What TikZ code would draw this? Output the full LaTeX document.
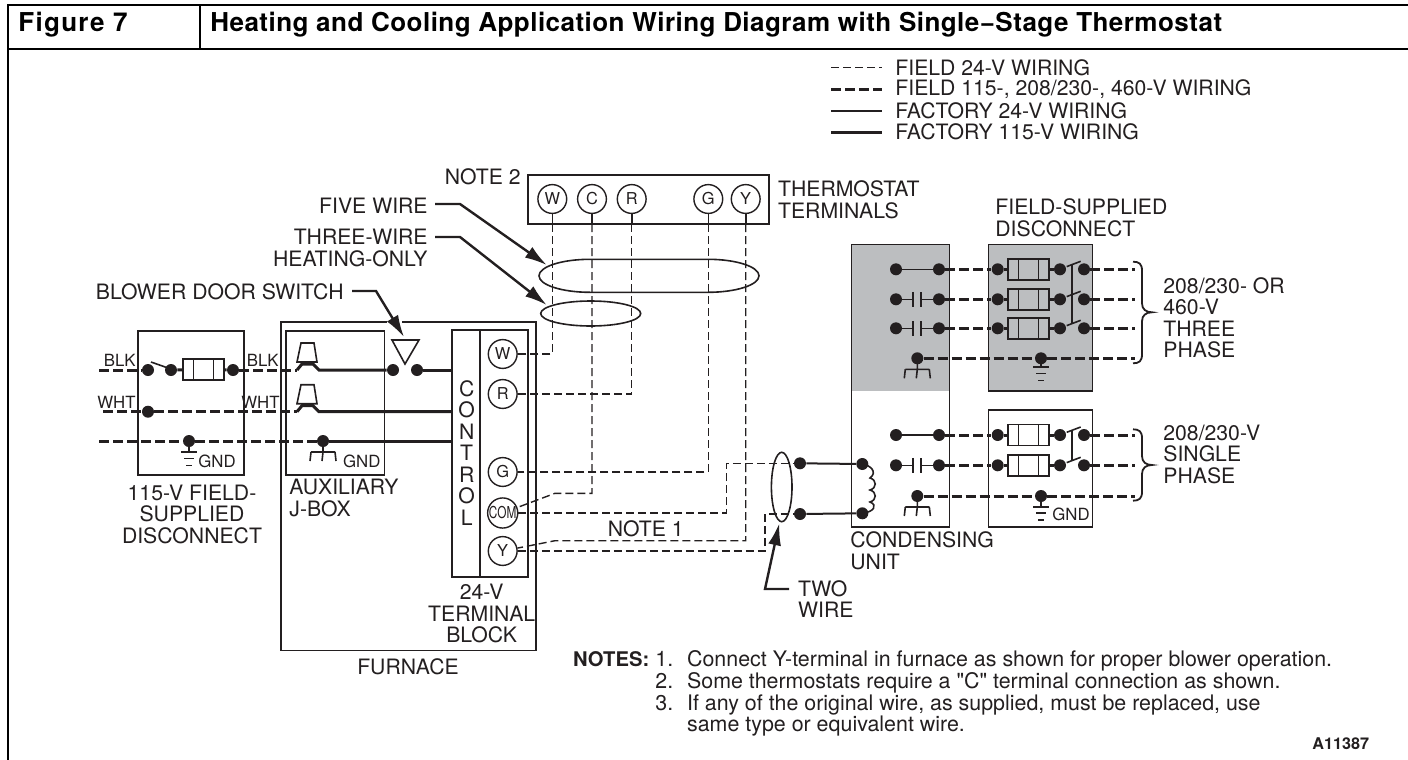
\documentclass[tikz,border=0pt]{standalone}
\usepackage{fontspec}
\setmainfont[Ligatures=TeXOff]{TeX Gyre Heros}
\usepackage{xcolor}
\usepackage{tikz}
\usetikzlibrary{calc,arrows.meta}
\definecolor{ink}{HTML}{231F20}
\definecolor{panel}{HTML}{BCBEC0}
\tikzset{
	lbl/.style={font=\fontsize{10.6}{10.75}\selectfont,text=ink,inner sep=0pt,align=left},
	small/.style={font=\fontsize{8.4}{9}\selectfont,text=ink,inner sep=0pt},
	note/.style={font=\fontsize{10.7}{10.8}\selectfont,text=ink,inner sep=0pt,anchor=west,text height=7.7pt,text depth=0pt},
	box/.style={draw=ink,line width=.8pt},
	dot/.style={circle,fill=ink,inner sep=0pt,minimum size=6pt},
	term/.style={circle,draw=ink,line width=.7pt,inner sep=0pt,minimum size=14.4pt,text=ink,font=\fontsize{8.2}{8.5}\selectfont},
	fuse/.style={rectangle,draw=ink,line width=.8pt,inner sep=0pt,minimum width=20.5pt,minimum height=10.4pt,
		path picture={\draw[ink,line width=.8pt] ([xshift=5.4pt]path picture bounding box.west) -- ++(0,6pt) ++(0,-12pt) -- ++(0,6pt)
			([xshift=-5.2pt]path picture bounding box.east) -- ++(0,6pt) ++(0,-12pt) -- ++(0,6pt);}},
	fieldlow/.style={draw=ink,line width=.7pt,dash pattern=on 4pt off 2pt},
	fieldhigh/.style={draw=ink,line width=1.5pt,dash pattern=on 5pt off 2pt},
	factlow/.style={draw=ink,line width=.8pt},
	facthigh/.style={draw=ink,line width=1.5pt},
	leader/.style={draw=ink,line width=1.2pt,-{Latex[length=11pt,width=6.5pt]}},
}
\begin{document}
\begin{tikzpicture}[x=.5pt,y=-.5pt]
	\useasboundingbox (0,0) rectangle (1408,760);
	\def\earth#1#2{\draw[factlow] (#1.center) -- ++(0,#2) ++(-8,0) -- ++(16,0) ++(-13,6.5) -- ++(10,0) ++(-8,7) -- ++(6,0);} % field ground
	\def\chassis#1{\draw[factlow] (#1.center) -- ++(0,11) ++(-12,0) -- ++(24,0) ++(0,0) -- ++(1,9) ++(-13,-9) -- ++(-1,9) ++(-11,-9) -- ++(-1,9);} % unit ground
	\def\blade#1{\draw[factlow] (#1.center) ++(6.7,-2.7) -- ++(14,-5.3);} % open switch
	\def\contact#1#2{\draw[factlow] (#1.center) -- ++(17,0) ++(0,-7.5) -- ++(0,15) ++(7.7,0) -- ++(0,-15) ++(0,7.5) -- (#2.center);} % contactor
	\def\phaserow#1#2{% one line through unit and disconnect
		\node[dot] (#1u) at (896,#2) {};
		\node[dot] (#1v) at (939,#2) {};
		\node[dot] (#1a) at (997.7,#2) {};
		\node[fuse] (#1f) at (1028.3,#2) {};
		\node[dot] (#1b) at (1060,#2) {};
		\node[dot] (#1c) at (1084,#2) {};
		\coordinate (#1e) at (1135,#2);
		\draw[fieldhigh] (#1v) -- (#1a);
		\draw[facthigh] (#1a) -- (#1f) -- (#1b);
		\draw[fieldhigh] (#1c) -- (#1e);
		\blade{#1b}
	}
	\def\bracket#1#2#3{\draw[factlow,line width=.9pt] (1133,#1) .. controls (1139,#1) and (1142,#1+2) .. (1142,#1+9) -- (1142,#2-9)
		.. controls (1142,#2-3) and (1146,#2) .. (1152,#2) .. controls (1146,#2) and (1142,#2+3) .. (1142,#2+9)
		-- (1142,#3-9) .. controls (1142,#3-2) and (1139,#3) .. (1133,#3);} % curly bracket

	% page frame and heading
	\draw[line width=1.3pt] (8,760) -- (8,5) -- (1408,5) (8,49) -- (1408,49) (200,5) -- (200,49);
	\node[inner sep=0pt,anchor=west,font=\fontsize{13}{14}\bfseries\addfontfeatures{LetterSpace=5}\selectfont] (figno) at (18,25) {Figure 7};
	\node[inner sep=0pt,anchor=west,font=\fontsize{13}{14}\bfseries\addfontfeatures{LetterSpace=1.8}\selectfont] (title) at (210,25) {Heating and Cooling Application Wiring Diagram with Single−Stage Thermostat};

	% legend
	\node[lbl,anchor=west] (leg1) at (895,68) {FIELD 24-V WIRING};
	\node[lbl,anchor=west] (leg2) at (895,89.5) {FIELD 115-, 208/230-, 460-V WIRING};
	\node[lbl,anchor=west] (leg3) at (895,111) {FACTORY 24-V WIRING};
	\node[lbl,anchor=west] (leg4) at (895,132) {FACTORY 115-V WIRING};
	\coordinate (key1) at (831,67.7);
	\coordinate (key2) at (831,89.3);
	\coordinate (key3) at (831,110.7);
	\coordinate (key4) at (831,132.3);
	\draw[fieldlow] (key1) -- ++(51,0);
	\draw[fieldhigh] (key2) -- ++(51,0);
	\draw[factlow] (key3) -- ++(51,0);
	\draw[facthigh] (key4) -- ++(51,0);

	% thermostat
	\draw[box] (527.7,175) rectangle (769,224);
	\node[term] (tW) at (552.3,199) {W};
	\node[term] (tC) at (592,199) {C};
	\node[term] (tR) at (631.7,199) {R};
	\node[term] (tG) at (708.3,199) {G};
	\node[term] (tY) at (745.7,199) {Y};
	\node[lbl,anchor=east] (note2) at (521,177) {NOTE 2};
	\node[lbl,anchor=west] (tstat) at (777.7,200) {THERMOSTAT\\TERMINALS};
	\draw[factlow] (tW) -- (552.3,224) coordinate (tWb);
	\draw[factlow] (tC) -- (592,224) coordinate (tCb);
	\draw[factlow] (tR) -- (631.7,224) coordinate (tRb);
	\draw[factlow] (tG) -- (708.3,224) coordinate (tGb);
	\draw[factlow] (tY) -- (745.7,224) coordinate (tYb);

	% furnace and 24-v block
	\draw[box] (281,322) rectangle (535.7,650.3);
	\draw[box] (285.7,331) rectangle (384.3,475);
	\draw[box] (451.7,330) rectangle (528,577);
	\draw[box] (479.7,330) -- (479.7,577);
	\node[term] (bW) at (502.7,354) {W};
	\node[term] (bR) at (502.7,394) {R};
	\node[term] (bG) at (502.7,472) {G};
	\node[term] (bC) at (502.7,513) {\scalebox{.72}[1]{COM}};
	\node[term] (bY) at (502.7,551) {Y};
	\node[lbl,align=center] (ctrl) at (466.7,453) {C\\O\\N\\T\\R\\O\\L};
	\node[lbl,align=center] (block) at (481.7,613.5) {24-V\\TERMINAL\\BLOCK};
	\node[lbl] (furn) at (408,667) {FURNACE};
	\node[lbl,anchor=west] (aux) at (289,498) {AUXILIARY\\J-BOX};

	% low voltage wires
	\draw[fieldlow] (tWb) |- (bW);
	\draw[fieldlow] (tRb) |- (bR);
	\draw[fieldlow] (tGb) |- (bG);
	\draw[fieldlow] (tCb) |- (555,493.3) -- (bC);
	\draw[fieldlow] (tYb) |- (555,540.7) -- (bY);
	\node[dot] (two1) at (800,463.3) {};
	\node[dot] (two2) at (800,514) {};
	\draw[fieldlow] (bC) -| (726.7,463.3) -- (two1);
	\draw[fieldlow] (bY) -| (765,514) -- (two2);
	\node[lbl] (note1) at (645.7,529) {NOTE 1};

	% left disconnect
	\draw[box] (137.7,331) rectangle (243.7,475);
	\node[dot] (inB) at (148,370) {};
	\node[dot] (swB) at (171,370) {};
	\node[fuse] (fB) at (203.2,369.5) {};
	\node[dot] (outB) at (233,370) {};
	\node[dot] (inW) at (148,411.7) {};
	\node[dot] (gnd1) at (189,441) {};
	\node[dot] (gnd2) at (323,441) {};
	\coordinate (srcB) at (99,370);
	\coordinate (srcW) at (103,411.7);
	\coordinate (srcG) at (99,441);
	\coordinate (plugB) at (297,370);
	\coordinate (plugW) at (297,411.7);
	\node[dot] (door1) at (393,370) {};
	\node[dot] (door2) at (417,370) {};
	\coordinate (ctlB) at (451.7,370);
	\coordinate (ctlW) at (451.7,411.7);
	\coordinate (ctlG) at (451.7,441);
	\draw[fieldhigh] (srcB) -- (inB);
	\draw[factlow] (151,362) -- (168,368);
	\draw[facthigh] (swB) -- (fB) -- (outB);
	\draw[fieldhigh] (outB) -- (plugB);
	\draw[fieldhigh] (srcW) -- (inW);
	\draw[fieldhigh] (inW) -- (plugW);
	\draw[fieldhigh] (srcG) -- (gnd1);
	\draw[fieldhigh] (gnd1) -- (gnd2);
	\draw[facthigh] (gnd2) -- (ctlG);
	\draw[facthigh] (plugB) -- ++(5,-6) -- ++(11,0) -- ++(6,6) -- (door1);
	\draw[facthigh] (plugW) -- ++(5,-6) -- ++(11,0) -- ++(6,6) -- (ctlW);
	\draw[facthigh] (door2) -- (ctlB);
	\draw[factlow] (plugB) ++(0,-8) -- ++(4,-19) -- ++(13,0) -- ++(3,19) -- cycle; % connector
	\draw[factlow] (plugW) ++(0,-8) -- ++(4,-19) -- ++(13,0) -- ++(3,19) -- cycle; % connector
	\draw[factlow] (392,340) -- (419,340) -- (405,364) -- cycle; % door switch
	\earth{gnd1}{11}
	\chassis{gnd2}
	\node[small,anchor=west] (gl1) at (198,461.7) {GND};
	\node[small,anchor=west] (gl2) at (342.7,461.7) {GND};
	\node[small,anchor=east] (blk1) at (136,360) {BLK};
	\node[small,anchor=east] (wht1) at (136,402) {WHT};
	\node[small,anchor=east] (blk2) at (279,360) {BLK};
	\node[small,anchor=east] (wht2) at (280,402) {WHT};
	\node[lbl,align=center] (disc) at (192,514) {115-V FIELD-\\SUPPLIED\\DISCONNECT};

	% outdoor unit and disconnects
	\fill[panel] (851.3,244.3) rectangle (949.3,390.7);
	\draw[box] (851.3,244.3) rectangle (949.3,526.7);
	\draw[box,fill=panel] (988.3,244.3) rectangle (1092.3,390.7);
	\draw[box] (988.3,410) rectangle (1092.3,526.7);
	\phaserow{r1}{269.3}
	\phaserow{r2}{299.3}
	\phaserow{r3}{328.3}
	\phaserow{s1}{435}
	\phaserow{s2}{465.3}
	\draw[factlow] (r1u) -- (r1v);
	\contact{r2u}{r2v}
	\contact{r3u}{r3v}
	\draw[factlow] (s1u) -- (s1v);
	\contact{s2u}{s2v}
	\draw[factlow] ($(r1b)+(11.7,-4.6)$) -- ($(r3b)+(11.7,-4.6)$);
	\draw[factlow] ($(s1b)+(11.7,-4.6)$) -- ($(s2b)+(11.7,-4.6)$);
	% grounds of the unit
	\node[dot] (r4u) at (917.3,358.3) {};
	\node[dot] (r4a) at (1041,358.3) {};
	\coordinate (r4e) at (1135,358.3);
	\draw[fieldhigh] (r4u) -- (r4a);
	\draw[fieldhigh] (r4a) -- (r4e);
	\chassis{r4u}
	\earth{r4a}{8.7}
	\node[dot] (s3u) at (917.3,496) {};
	\node[dot] (s3a) at (1041,496) {};
	\coordinate (s3e) at (1135,496);
	\draw[fieldhigh] (s3u) -- (s3a);
	\draw[fieldhigh] (s3a) -- (s3e);
	\chassis{s3u}
	\earth{s3a}{10.7}
	\node[small,anchor=west] (gl3) at (1052,514.3) {GND};
	\bracket{261.7}{312.3}{363.3}
	\bracket{429.3}{465}{500.7}

	% two wire bundle and coil
	\node[dot] (coilT) at (862.3,464) {};
	\node[dot] (coilB) at (862.3,513.3) {};
	\draw[factlow,line width=1pt] (two1) -- (coilT);
	\draw[factlow,line width=1pt] (two2) -- (coilB);
	\draw[factlow] (coilT.center) .. controls (870,465) and (878,472) .. (870,478)
		.. controls (877,480) and (877,488) .. (870,490)
		.. controls (877,492) and (877,500) .. (870,502)
		.. controls (878,505) and (874,512) .. (coilB.center);
	\draw[factlow] (781.7,487) ellipse [x radius=10.3,y radius=34.7];

	% bundles
	\draw[factlow] (590,259.3) -- (708,259.3) arc[start angle=-90,end angle=90,x radius=51,y radius=16.5]
		-- (590,292.3) arc[start angle=90,end angle=270,x radius=51,y radius=16.5] -- cycle;
	\draw[factlow] (590.7,313.5) ellipse [x radius=50,y radius=12.5];

	% labels with arrows
	\node[lbl,anchor=east] (five) at (428,206) {FIVE WIRE};
	\node[lbl,anchor=north east,align=right] (three) at (428,229) {THREE-WIRE\\HEATING-ONLY};
	\node[lbl,anchor=east] (door) at (344,292) {BLOWER DOOR SWITCH};
	\node[lbl,anchor=west,align=left] (two) at (797.7,599) {TWO\\WIRE};
	\coordinate (fivetip) at (546.7,265);
	\coordinate (threetip) at (546.7,305);
	\coordinate (doortip) at (404,337);
	\coordinate (twotip) at (779.3,523.3);
	\draw[white,line width=1.5pt] (387,322) -- (402,322);
	\draw[leader] (435,204) -- (460,204) -- (fivetip);
	\draw[leader] (435,237) -- (460,237) -- (threetip);
	\draw[leader] (352,291) -- (376,291) -- (doortip);
	\draw[leader] (789,589) -- (765,589) -- (twotip);

	% right hand labels
	\node[lbl,anchor=west] (fsd) at (995,218) {FIELD-SUPPLIED\\DISCONNECT};
	\node[lbl,anchor=west] (ph3) at (1163,318) {208/230- OR\\460-V\\THREE\\PHASE};
	\node[lbl,anchor=west] (ph1) at (1163,454) {208/230-V\\SINGLE\\PHASE};
	\node[lbl,anchor=west] (cond) at (850,551) {CONDENSING\\UNIT};

	% notes
	\node[note,font=\fontsize{10.1}{10.8}\bfseries\selectfont] (notes) at (572.7,659) {NOTES:};
	\node[note] (n1) at (655,659) {1.};
	\node[note] (n2) at (655,680.7) {2.};
	\node[note] (n3) at (655,702.3) {3.};
	\node[note] (t1) at (686.7,659) {Connect Y-terminal in furnace as shown for proper blower operation.};
	\node[note] (t2) at (686.7,680.7) {Some thermostats require a "C" terminal connection as shown.};
	\node[note] (t3) at (686.7,702.3) {If any of the original wire, as supplied, must be replaced, use};
	\node[note] (t4) at (686.7,723.3) {same type or equivalent wire.};
	\node[note,font=\fontsize{8.1}{8.5}\bfseries\selectfont] (code) at (1312,741.7) {A11387};
\end{tikzpicture}
\end{document}
